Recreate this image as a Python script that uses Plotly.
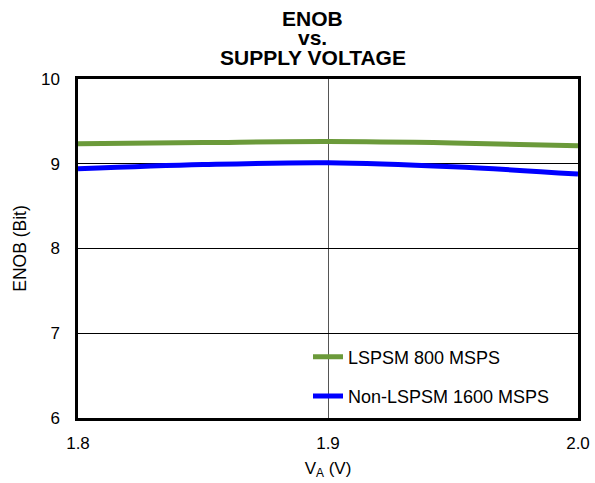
import plotly.graph_objects as go

va = [1.8, 1.85, 1.9, 1.95, 2.0]
enob_lspsm_800 = [9.235, 9.25, 9.262, 9.245, 9.212]
enob_non_lspsm_1600 = [8.94, 8.99, 9.012, 8.965, 8.878]

x_ticks = [1.8, 1.9, 2.0]
x_tick_labels = ["1.8", "1.9", "2.0"]
y_ticks = [6, 7, 8, 9, 10]
title_lines = ["ENOB", "vs.", "SUPPLY VOLTAGE"]

font = "Liberation Sans, Arial, sans-serif"

fig = go.Figure()
fig.add_trace(go.Scatter(x=va, y=enob_lspsm_800, mode="lines", name="LSPSM 800 MSPS",
                         line=dict(color="#6b9a3a", width=5, shape="spline"), legendgroup="a"))
fig.add_trace(go.Scatter(x=va, y=enob_non_lspsm_1600, mode="lines", name="Non-LSPSM 1600 MSPS",
                         line=dict(color="#0000ff", width=5, shape="spline"), legendgroup="b"))

L, R, T, B = 78, 17, 79, 65
H = 483 - T - B

def ypix(p):
    return (483 - B - p) / H

for txt, py in zip(title_lines, [18, 38, 58]):
    fig.add_annotation(text=f"<b>{txt}</b>", xref="paper", yref="paper",
                       x=(312.5 - L) / 500, y=ypix(py), xanchor="center", yanchor="middle",
                       showarrow=False, font=dict(family=font, size=21, color="black"))

fig.update_layout(
    width=595, height=483,
    margin=dict(l=L, r=R, t=T, b=B, autoexpand=False),
    paper_bgcolor="white", plot_bgcolor="white",
    font=dict(family=font, size=17, color="black"),
    xaxis=dict(range=[1.8, 2.0], tickvals=x_ticks, ticktext=x_tick_labels,
               showgrid=True, gridcolor="#555555", gridwidth=1,
               showline=True, linecolor="black", linewidth=2.5, mirror=True,
               ticks="", zeroline=False, automargin=False, ticklabelstandoff=8,
               title=dict(text="V<sub>A</sub> (V)", font=dict(size=17), standoff=10),
               tickfont=dict(size=17)),
    yaxis=dict(range=[6, 10], tickvals=y_ticks,
               showgrid=True, gridcolor="black", gridwidth=1,
               showline=True, linecolor="black", linewidth=2.5, mirror=True,
               ticks="", zeroline=False, automargin=False, ticklabelstandoff=12,
               title=dict(text="ENOB (Bit)", font=dict(size=17.5), standoff=10),
               tickfont=dict(size=17)),
    legend=dict(x=0.46, y=0.2345, xanchor="left", yanchor="top",
                bgcolor="rgba(255,255,255,0)", borderwidth=0,
                traceorder="grouped", tracegroupgap=13,
                font=dict(size=18)),
    showlegend=True,
)

fig.write_html("out.html", config={"displayModeBar": False},
               post_script="document.body.style.margin='0';")
